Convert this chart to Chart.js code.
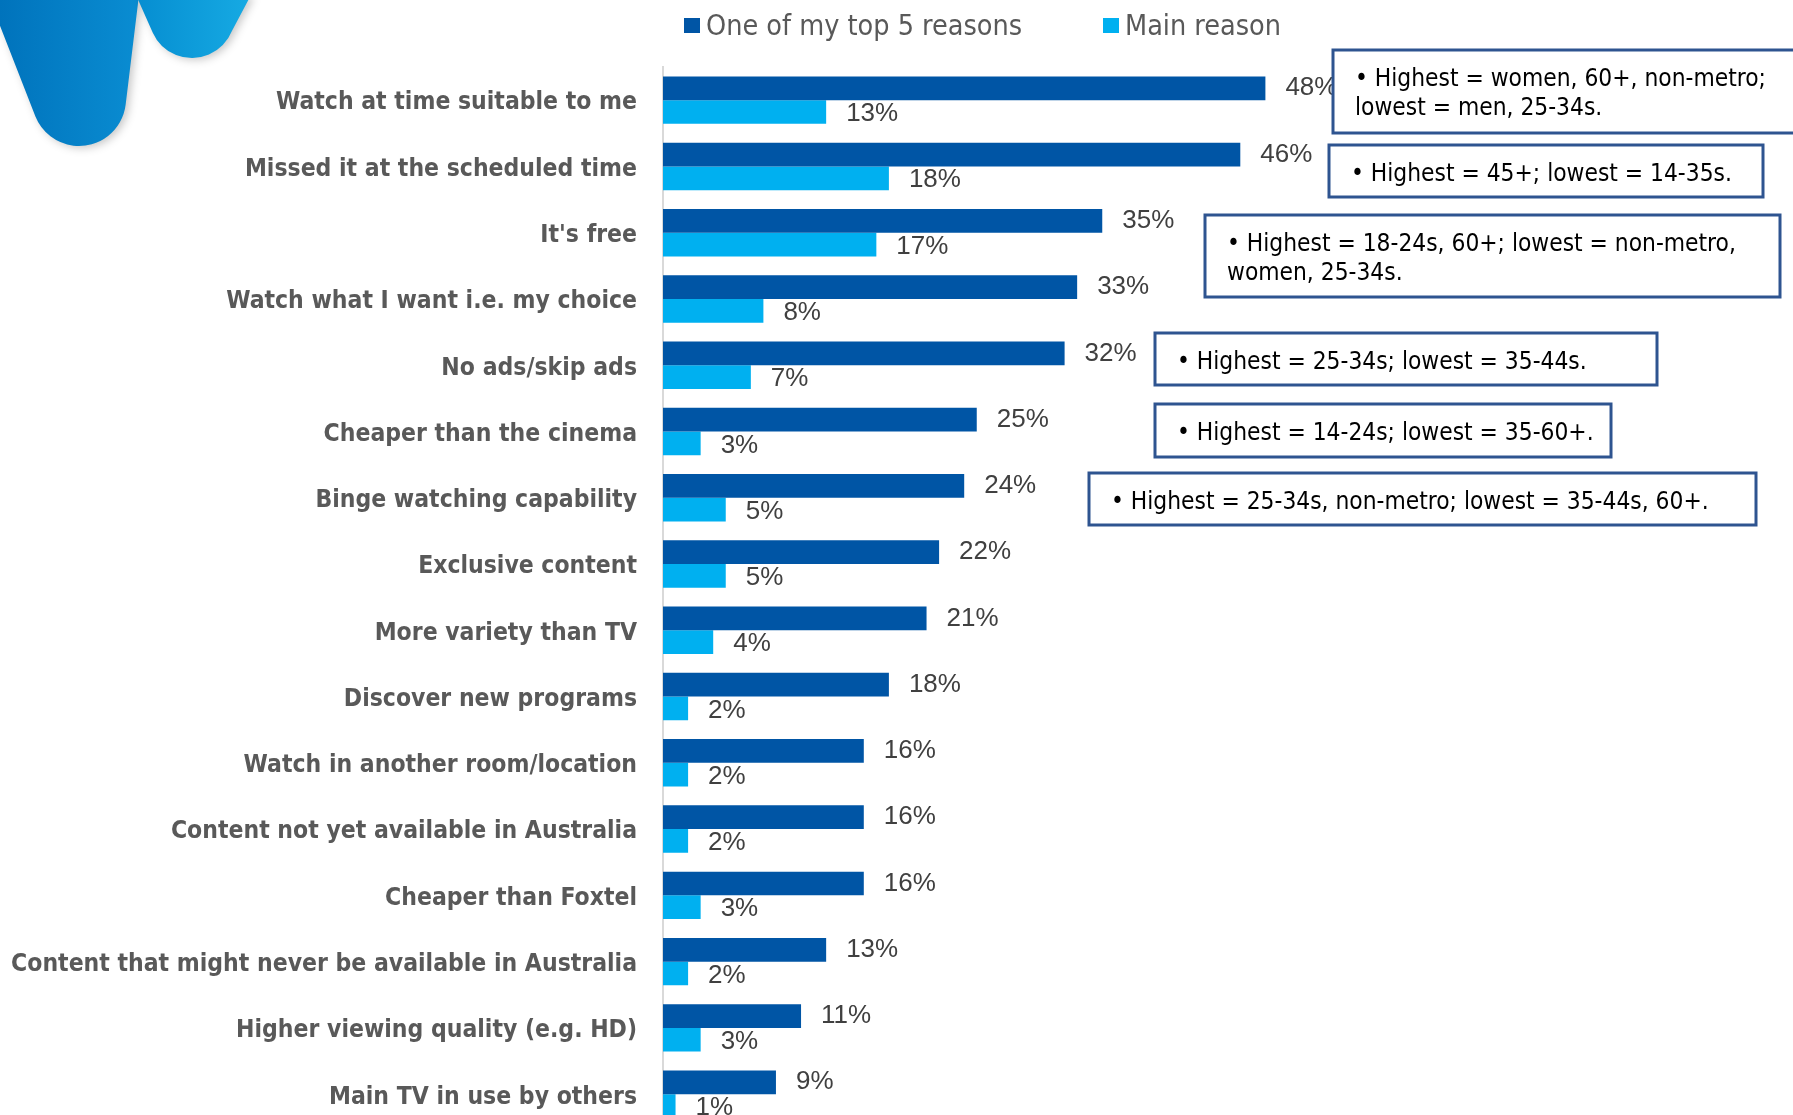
<!DOCTYPE html>
<html>
<head>
<meta charset="utf-8">
<title>Reasons for streaming</title>
<script src="https://cdn.jsdelivr.net/npm/chart.js@4.4.1/dist/chart.umd.min.js"></script>
<style>
  html, body { margin: 0; padding: 0; background: #fff; overflow: hidden; }
  #reasonsChart { position: absolute; left: 0; top: 0; }
</style>
</head>
<body>
<canvas id="reasonsChart" width="1793" height="1168"></canvas>
<script>
// Reasons, top to bottom
const reasons = [
    'Watch at time suitable to me',
    'Missed it at the scheduled time',
    "It's free",
    'Watch what I want i.e. my choice',
    'No ads/skip ads',
    'Cheaper than the cinema',
    'Binge watching capability',
    'Exclusive content',
    'More variety than TV',
    'Discover new programs',
    'Watch in another room/location',
    'Content not yet available in Australia',
    'Cheaper than Foxtel',
    'Content that might never be available in Australia',
    'Higher viewing quality (e.g. HD)',
    'Main TV in use by others'
];

// Percent of respondents
const topFive = [48, 46, 35, 33, 32, 25, 24, 22, 21, 18, 16, 16, 16, 13, 11, 9];
const mainReason = [13, 18, 17, 8, 7, 3, 5, 5, 4, 2, 2, 2, 3, 2, 3, 1];
const seriesNames = ['One of my top 5 reasons', 'Main reason'];

// Demographic call-outs
const notes = [
    ['\u2022 Highest = women, 60+, non-metro;', 'lowest = men, 25-34s.'],
    ['\u2022 Highest = 45+; lowest = 14-35s.'],
    ['\u2022 Highest = 18-24s, 60+; lowest = non-metro,', 'women, 25-34s.'],
    ['\u2022 Highest = 25-34s; lowest = 35-44s.'],
    ['\u2022 Highest = 14-24s; lowest = 35-60+.'],
    ['\u2022 Highest = 25-34s, non-metro; lowest = 35-44s, 60+.']
];

const DARK = '#0055A5';
const LIGHT = '#00B0F0';
const CONDENSED = '"DejaVu Sans Condensed", "DejaVu Sans", sans-serif';

// boxes for the call-outs: [x, y, w, h]
const noteBoxes = [
    [1333, 50, 480, 83],
    [1329, 145, 434, 52],
    [1205, 215, 575, 82],
    [1155, 333, 502, 52],
    [1155, 404, 456, 53],
    [1089, 473, 667, 52]
];

// brand shapes in the top-left corner
function drawLogo(ctx) {
    ctx.save();
    ctx.shadowColor = 'rgba(0,0,0,0.22)';
    ctx.shadowBlur = 8;
    ctx.shadowOffsetX = 3;
    ctx.shadowOffsetY = 2;

    // large drop
    let g = ctx.createLinearGradient(0, 0, 140, 0);
    g.addColorStop(0, '#0073BC');
    g.addColorStop(1, '#0A8DD2');
    ctx.fillStyle = g;
    const c1 = { x: 79, y: 99, r: 47 };
    const a1 = 6.8 * Math.PI / 180, b1 = 158 * Math.PI / 180;
    ctx.beginPath();
    ctx.moveTo(-12, -5);
    ctx.lineTo(139, -5);
    ctx.lineTo(c1.x + c1.r * Math.cos(a1), c1.y + c1.r * Math.sin(a1));
    ctx.arc(c1.x, c1.y, c1.r, a1, b1);
    ctx.closePath();
    ctx.fill();

    // small drop
    g = ctx.createLinearGradient(138, 0, 250, 0);
    g.addColorStop(0, '#068ED1');
    g.addColorStop(1, '#16AAE3');
    ctx.fillStyle = g;
    const c2 = { x: 192, y: 15, r: 43 };
    const a2 = 21.8 * Math.PI / 180, b2 = 155.8 * Math.PI / 180;
    ctx.beginPath();
    ctx.moveTo(136, -5);
    ctx.lineTo(251, -5);
    ctx.lineTo(c2.x + c2.r * Math.cos(a2), c2.y + c2.r * Math.sin(a2));
    ctx.arc(c2.x, c2.y, c2.r, a2, b2);
    ctx.closePath();
    ctx.fill();
    ctx.restore();
}

const decorations = {
    id: 'decorations',
    beforeDraw(chart) {
        drawLogo(chart.ctx);
    },
    afterDatasetsDraw(chart) {
        // value labels at the end of each bar
        const ctx = chart.ctx;
        ctx.save();
        ctx.font = '26px "Liberation Sans", Arial, sans-serif';
        ctx.fillStyle = '#404040';
        ctx.textAlign = 'left';
        ctx.textBaseline = 'middle';
        chart.data.datasets.forEach((ds, i) => {
            chart.getDatasetMeta(i).data.forEach((bar, j) => {
                ctx.fillText(ds.data[j] + '%', bar.x + 20, bar.y + (i === 0 ? 0 : 2));
            });
        });
        ctx.restore();
    },
    afterDraw(chart) {
        const ctx = chart.ctx;
        ctx.save();

        // legend
        const legendX = [684, 1103];
        ctx.font = '28.5px ' + CONDENSED;
        ctx.textBaseline = 'middle';
        ctx.textAlign = 'left';
        chart.data.datasets.forEach((ds, i) => {
            ctx.fillStyle = ds.backgroundColor;
            ctx.fillRect(legendX[i], 18, 16, 15);
            ctx.fillStyle = '#595959';
            ctx.fillText(ds.label, legendX[i] + 22, 27.5);
        });

        // call-out boxes
        ctx.font = '24.3px ' + CONDENSED;
        ctx.textBaseline = 'alphabetic';
        notes.forEach((lines, i) => {
            const [x, y, w, h] = noteBoxes[i];
            ctx.fillStyle = '#ffffff';
            ctx.fillRect(x, y, w, h);
            ctx.strokeStyle = '#2E5490';
            ctx.lineWidth = 3;
            ctx.strokeRect(x, y, w, h);
            ctx.fillStyle = '#000000';
            lines.forEach((line, k) => {
                ctx.fillText(line, x + 22, y + 35.5 + k * 29.5);
            });
        });
        ctx.restore();
    }
};

new Chart(document.getElementById('reasonsChart'), {
    type: 'bar',
    data: {
        labels: reasons,
        datasets: [
            { label: seriesNames[0], data: topFive, backgroundColor: DARK },
            { label: seriesNames[1], data: mainReason, backgroundColor: LIGHT }
        ]
    },
    options: {
        indexAxis: 'y',
        responsive: false,
        animation: false,
        datasets: {
            bar: { barPercentage: 1, categoryPercentage: 0.716 }
        },
        layout: {
            padding: { top: 67, right: 377, bottom: 0, left: 0 }
        },
        scales: {
            x: { display: false, min: 0, max: 60 },
            y: {
                grid: { display: false, drawTicks: false },
                border: { display: true, color: '#D9D9D9', width: 2 },
                ticks: {
                    padding: 26,
                    labelOffset: 3,
                    color: '#595959',
                    font: { family: CONDENSED, weight: 'bold', size: 24.5 }
                },
                afterFit(scale) {
                    scale.width = 663;
                }
            }
        },
        plugins: {
            legend: { display: false },
            tooltip: { enabled: false }
        }
    },
    plugins: [decorations]
});
</script>
</body>
</html>
